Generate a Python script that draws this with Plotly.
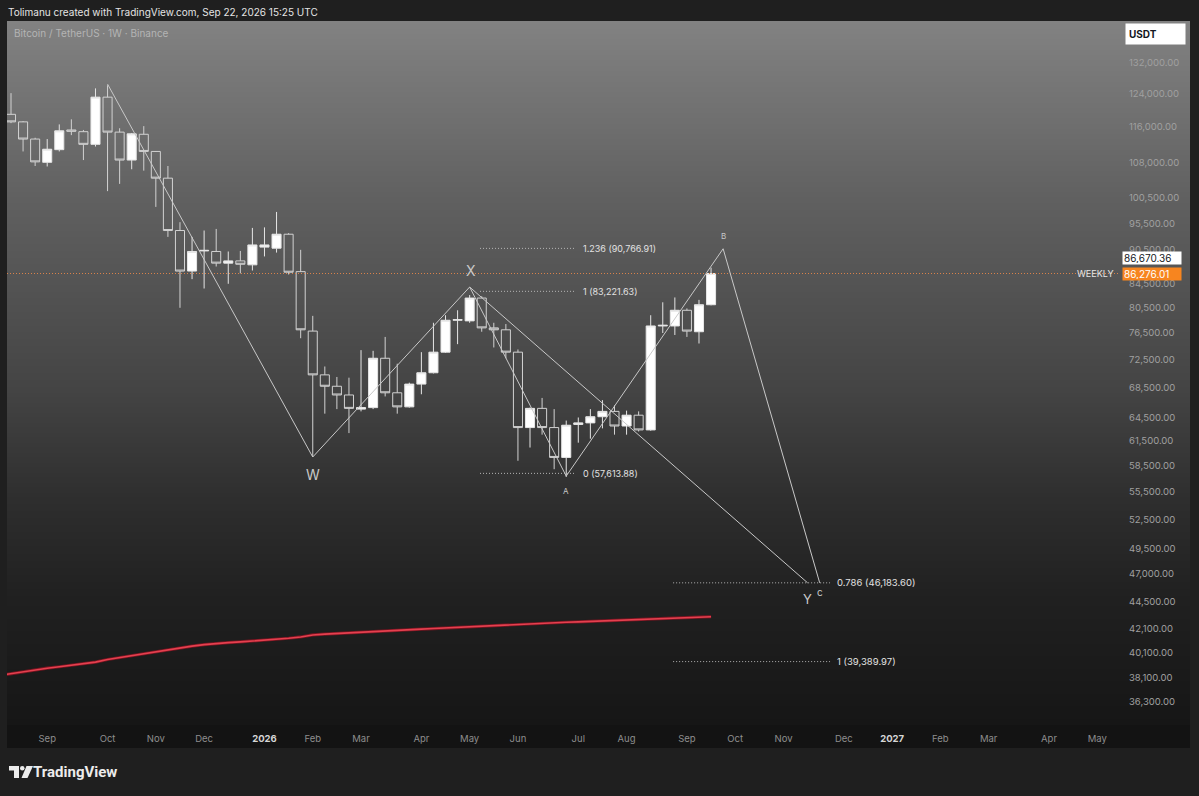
import zlib, struct, base64
import numpy as np
import pandas as pd
import plotly.graph_objects as go

# ---------------- DATA ----------------
first_week = "2025-08-11"   # Monday of first visible weekly bar
opens  = [119000,117200,113200,108000,110800,115300,114900,112000,123200,114800,
          108500,114300,110400,104600, 94100, 86700, 90300, 90200, 88100, 88500,
           87800, 91000, 90800, 93400, 86600, 76800, 70300, 68700, 67500, 65600,
           65800, 72700, 67800, 65900, 69000, 70600, 73600, 78500, 78400, 82100,
           77300, 77000, 73600, 63200, 65700, 63200, 59500, 63600, 63800, 64600,
           65300, 63400, 64800, 62900, 77600, 77600, 80100, 76700, 81000]
highs  = [124200,117400,113500,113200,116600,117800,115300,125400,126200,115700,
          114600,116200,110500,107200, 95700, 92900, 94100, 94400, 90200, 90300,
           94600, 94700, 97700, 93600, 90500, 79200, 71500, 70000, 69900, 73900,
           73800, 75900, 71900, 69200, 73600, 78100, 79300, 80100, 82600, 82400,
           78100, 77900, 74000, 65800, 67100, 65600, 64100, 64500, 65600, 66800,
           66100, 65400, 65300, 79300, 81400, 82200, 80400, 81800, 87300]
lows   = [116900,110400,107200,107100,110400,114100,108500,111500,101900,103400,
          106500,106200, 98700, 92900, 80500, 85300, 83700, 87500, 84500, 86300,
           86800, 89300, 90000, 86100, 75700, 59600, 65000, 65600, 62500, 65300,
           65600, 67300, 65000, 65800, 67600, 70500, 73500, 74800, 78100, 76700,
           74300, 72700, 59100, 60700, 62300, 58100, 57200, 61300, 61800, 63100,
           62300, 62300, 62700, 62800, 76500, 76200, 75900, 74900, 80900]
closes = [117200,113200,108100,110900,115100,115000,112000,123200,114800,108500,
          114400,110400,104600, 94100, 86700, 90200, 90400, 88100, 88500, 87900,
           91400, 91400, 93400, 86500, 77000, 70300, 68700, 67500, 65700, 65800,
           72700, 67800, 65900, 69000, 70600, 73600, 78500, 78600, 82100, 77300,
           77000, 73600, 63200, 65700, 63200, 59500, 63500, 63800, 64600, 65300,
           63400, 64800, 62900, 77600, 77700, 80100, 76800, 81000, 86276.01]

# 200-week moving average (red), one value per week starting one week before first bar
ma_start = "2025-08-04"
ma_values = [38300,38450,38600,38760,38870,38980,39090,39200,39350,39560,
             39720,39880,40020,40180,40350,40510,40640,40760,40870,40930,
             40990,41050,41120,41200,41290,41400,41570,41640,41700,41760,
             41810,41860,41910,41960,42010,42060,42110,42160,42220,42280,
             42330,42390,42450,42500,42560,42590,42620,42650,42680,42720,
             42750,42780,42820,42860,42890,42930,42980,43030,43080,43130]

# Harmonic / wave pattern points
zig_dates  = ["2025-10-06", "2026-02-02", "2026-05-04", "2026-06-29", "2026-09-28", "2026-11-23"]
zig_prices = [126500, 59550, 83950, 57300, 90700, 46183.6]
zig_labels = ["", "W", "X", "A", "B", "c"]
xy_dates   = ["2026-05-04", "2026-11-16"]
xy_prices  = [83950, 46183.6]

# Fibonacci levels
fib1_span   = ["2026-05-10", "2026-07-04"]
fib1_levels = [90766.91, 83221.63, 57613.88]
fib1_texts  = ["1.236 (90,766.91)", "1 (83,221.63)", "0 (57,613.88)"]
fib2_span   = ["2026-08-30", "2026-11-29"]
fib2_levels = [46183.60, 39389.97]
fib2_texts  = ["0.786 (46,183.60)", "1 (39,389.97)"]

last_price  = 86276.01
weekly_lvl  = 86670.36

price_ticks = [132000,124000,116000,108000,100500,95500,90500,84500,80500,76500,
               72500,68500,64500,61500,58500,55500,52500,49500,47000,44500,
               42100,40100,38100,36300]
month_tick_dates = ["2025-09-01","2025-10-06","2025-11-03","2025-12-01","2026-01-05",
                    "2026-02-02","2026-03-02","2026-04-06","2026-05-04","2026-06-01",
                    "2026-07-06","2026-08-03","2026-09-07","2026-10-05","2026-11-02",
                    "2026-12-07","2027-01-04","2027-02-01","2027-03-01","2027-04-05",
                    "2027-05-03"]
month_tick_text = ["Sep","Oct","Nov","Dec","2026","Feb","Mar","Apr","May","Jun","Jul",
                   "Aug","Sep","Oct","Nov","Dec","2027","Feb","Mar","Apr","May"]

# ---------------- LAYOUT GEOMETRY ----------------
W, H = 1199, 796
PL, PR, PT, PB = 7, 1120, 21, 725       # plot area in px
PANEL_R, AXIS_B = 1190, 748

def px_x(px):
    return (px - PL) / (PR - PL)

def px_y(py):
    return (PB - py) / (PB - PT)

FONT = "Inter, Roboto, 'Noto Sans', sans-serif"

# gradient background image
def gradient_png(stops, y0, y1):
    rows = bytearray()
    for yy in range(y0, y1):
        y = yy + 0.5
        v = stops[-1][1]
        for (a, ca), (b, cb) in zip(stops[:-1], stops[1:]):
            if a <= y <= b:
                t = (y - a) / (b - a)
                v = ca + (cb - ca) * t
                break
        if y < stops[0][0]:
            v = stops[0][1]
        c = int(round(v))
        rows += b"\x00" + bytes([c, c, c])
    def chunk(tag, data):
        return (struct.pack(">I", len(data)) + tag + data +
                struct.pack(">I", zlib.crc32(tag + data) & 0xffffffff))
    png = (b"\x89PNG\r\n\x1a\n" +
           chunk(b"IHDR", struct.pack(">IIBBBBB", 1, y1 - y0, 8, 2, 0, 0, 0)) +
           chunk(b"IDAT", zlib.compress(bytes(rows))) +
           chunk(b"IEND", b""))
    return "data:image/png;base64," + base64.b64encode(png).decode()

grad_stops = [(21, 130), (200, 96), (390, 68), (500, 46), (600, 32), (725, 22)]
grad_src = gradient_png(grad_stops, PT, PB)

# ---------------- FIGURE ----------------
dates = pd.date_range(first_week, periods=len(opens), freq="7D")
ma_dates = pd.date_range(ma_start, periods=len(ma_values), freq="7D")

fig = go.Figure()

# moving average (two strokes for the dark-edged red look)
fig.add_trace(go.Scatter(x=ma_dates, y=ma_values, mode="lines",
                         line=dict(color="#7a1420", width=3.2), hoverinfo="skip"))
fig.add_trace(go.Scatter(x=ma_dates, y=ma_values, mode="lines",
                         line=dict(color="#e4404f", width=1.6), hoverinfo="skip"))

# current price dotted line
base = pd.Timestamp(first_week)
x_left = base + pd.Timedelta(days=7 * (PL - 11) / 12.07)
x_right = base + pd.Timedelta(days=7 * (PR - 11) / 12.07)
fig.add_trace(go.Scatter(x=[x_left, x_right], y=[last_price, last_price], mode="lines",
                         line=dict(color="#d9824a", width=1, dash="1px,2px"),
                         hoverinfo="skip"))

# candles
fig.add_trace(go.Candlestick(
    x=dates, open=opens, high=highs, low=lows, close=closes,
    increasing=dict(line=dict(color="#e6e6e6", width=1), fillcolor="#ffffff"),
    decreasing=dict(line=dict(color="#d2d2d2", width=1), fillcolor="rgba(0,0,0,0)"),
    whiskerwidth=0, hoverinfo="skip"))

# pattern lines
fig.add_trace(go.Scatter(x=zig_dates, y=zig_prices, mode="lines",
                         line=dict(color="#c8c8c8", width=1), hoverinfo="skip"))
fig.add_trace(go.Scatter(x=xy_dates, y=xy_prices, mode="lines",
                         line=dict(color="#c8c8c8", width=1), hoverinfo="skip"))

# fib levels
for lvl in fib1_levels:
    fig.add_trace(go.Scatter(x=fib1_span, y=[lvl, lvl], mode="lines",
                             line=dict(color="#b4b4b4", width=1, dash="1px,2px"),
                             hoverinfo="skip"))
for lvl in fib2_levels:
    fig.add_trace(go.Scatter(x=fib2_span, y=[lvl, lvl], mode="lines",
                             line=dict(color="#b4b4b4", width=1, dash="1px,2px"),
                             hoverinfo="skip"))

ann = []
for lvl, txt in zip(fib1_levels, fib1_texts):
    ann.append(dict(x=fib1_span[1], y=np.log10(lvl), xref="x", yref="y", text=txt,
                    showarrow=False, xanchor="left", xshift=6,
                    font=dict(family=FONT, size=9, color="#e2e2e2")))
for lvl, txt in zip(fib2_levels, fib2_texts):
    ann.append(dict(x=fib2_span[1], y=np.log10(lvl), xref="x", yref="y", text=txt,
                    showarrow=False, xanchor="left", xshift=5,
                    font=dict(family=FONT, size=9.5, color="#e2e2e2")))

# pattern point labels
label_style = {
    "W": dict(size=14, yshift=-17, xshift=0),
    "X": dict(size=14, yshift=17, xshift=1),
    "A": dict(size=8, yshift=-15, xshift=0),
    "B": dict(size=8, yshift=13, xshift=0),
    "c": dict(size=10, yshift=-9, xshift=0),
}
for d, p, lab in zip(zig_dates, zig_prices, zig_labels):
    if not lab:
        continue
    st = label_style[lab]
    ann.append(dict(x=d, y=np.log10(p), xref="x", yref="y", text=lab, showarrow=False,
                    yshift=st["yshift"], xshift=st["xshift"],
                    font=dict(family=FONT, size=st["size"], color="#c8c8c8")))
ann.append(dict(x=xy_dates[1], y=np.log10(xy_prices[1]), xref="x", yref="y", text="Y",
                showarrow=False, yshift=-16, xshift=0,
                font=dict(family=FONT, size=13, color="#c8c8c8")))

# header texts
ann.append(dict(x=px_x(6), y=px_y(12), xref="paper", yref="paper",
                text="Tolimanu created with TradingView.com, Sep 22, 2026 15:25 UTC",
                showarrow=False, xanchor="left", yanchor="middle",
                font=dict(family=FONT, size=10, color="#e4e4e4")))
ann.append(dict(x=px_x(12), y=px_y(33), xref="paper", yref="paper",
                text="Bitcoin / TetherUS · 1W · Binance",
                showarrow=False, xanchor="left", yanchor="middle",
                font=dict(family=FONT, size=10, color="#b4b4b4")))

# USDT button
ann.append(dict(x=px_x(1125), y=px_y(34), xref="paper", yref="paper", text="<b>USDT</b>",
                showarrow=False, xanchor="left", yanchor="middle", align="left",
                width=53, height=14, bgcolor="#ffffff", borderpad=3,
                font=dict(family=FONT, size=10, color="#131722")))

# price labels on the scale
ann.append(dict(x=px_x(1122), y=np.log10(weekly_lvl), xref="paper", yref="y",
                text="86,670.36", showarrow=False, xanchor="left", yanchor="middle",
                yshift=13, align="left", width=56, height=10, bgcolor="#ffffff", borderpad=1,
                font=dict(family=FONT, size=10, color="#131722")))
ann.append(dict(x=px_x(1122), y=np.log10(last_price), xref="paper", yref="y",
                text="86,276.01", showarrow=False, xanchor="left", yanchor="middle",
                align="left", width=56, height=10, bgcolor="#f7851f", borderpad=1,
                font=dict(family=FONT, size=10, color="#ffffff")))
ann.append(dict(x=px_x(1116), y=np.log10(last_price), xref="paper", yref="y",
                text="WEEKLY", showarrow=False, xanchor="right", yanchor="middle",
                font=dict(family=FONT, size=9, color="#e6e6e6")))

# TradingView footer
ann.append(dict(x=px_x(31), y=px_y(772), xref="paper", yref="paper", text="<b>TradingView</b>",
                showarrow=False, xanchor="left", yanchor="middle",
                font=dict(family="Roboto, Inter, sans-serif", size=15, color="#ececec")))

def path_px(points):
    s = ""
    for k, (a, b) in enumerate(points):
        s += ("M" if k == 0 else "L") + f"{px_x(a):.5f},{px_y(b):.5f} "
    return s + "Z"

shapes = [
    # time axis strip
    dict(type="rect", xref="paper", yref="paper", x0=0, x1=px_x(PANEL_R),
         y0=px_y(AXIS_B), y1=0, fillcolor="#131313", line=dict(width=0), layer="below"),
    # logo pieces
    dict(type="path", xref="paper", yref="paper",
         path=path_px([(9, 766), (19, 766), (19, 778), (14, 778), (14, 770.5), (9, 770.5)]),
         fillcolor="#ececec", line=dict(width=0)),
    dict(type="circle", xref="paper", yref="paper", x0=px_x(20), x1=px_x(24.5),
         y0=px_y(770.5), y1=px_y(766), fillcolor="#ececec", line=dict(width=0)),
    dict(type="path", xref="paper", yref="paper",
         path=path_px([(26.5, 766), (33, 766), (27.5, 778), (21.5, 778)]),
         fillcolor="#ececec", line=dict(width=0)),
]

fig.update_layout(
    width=W, height=H,
    margin=dict(l=PL, r=W - PR, t=PT, b=H - PB, pad=0),
    paper_bgcolor="#1f1f1f", plot_bgcolor="rgba(0,0,0,0)",
    showlegend=False, hovermode=False,
    font=dict(family=FONT),
    images=[dict(source=grad_src, xref="paper", yref="paper", x=0, y=1,
                 sizex=px_x(PANEL_R), sizey=1, xanchor="left", yanchor="top",
                 sizing="stretch", layer="below")],
    annotations=ann, shapes=shapes,
    boxgap=0.25, boxgroupgap=0,
)

tick_text_fmt = [f"<b><span style='color:#d6d6d6'>{t}</span></b>" if t.isdigit() else t
                 for t in month_tick_text]
fig.update_xaxes(type="date", range=[x_left, x_right], rangeslider=dict(visible=False),
                 showgrid=False, zeroline=False, showline=False, ticks="",
                 tickvals=month_tick_dates, ticktext=tick_text_fmt,
                 tickfont=dict(family=FONT, size=9.5, color="#8e8e8e"),
                 ticklabelstandoff=6, fixedrange=True)
ln_per_px = 1 / 495.0
y_top = np.log10(132000) + (63 - PT) * ln_per_px / np.log(10)
y_bot = np.log10(132000) - (PB - 63) * ln_per_px / np.log(10)
fig.update_yaxes(type="log", side="right", range=[y_bot, y_top],
                 showgrid=False, zeroline=False, showline=False, ticks="",
                 tickvals=price_ticks, ticktext=[f"{v:,.2f}" for v in price_ticks],
                 tickfont=dict(family=FONT, size=9.5, color="#a0a0a0"),
                 ticklabelstandoff=8, fixedrange=True)

fig.write_html("out.html", config={"displayModeBar": False},
               post_script="document.body.style.margin='0px';")
